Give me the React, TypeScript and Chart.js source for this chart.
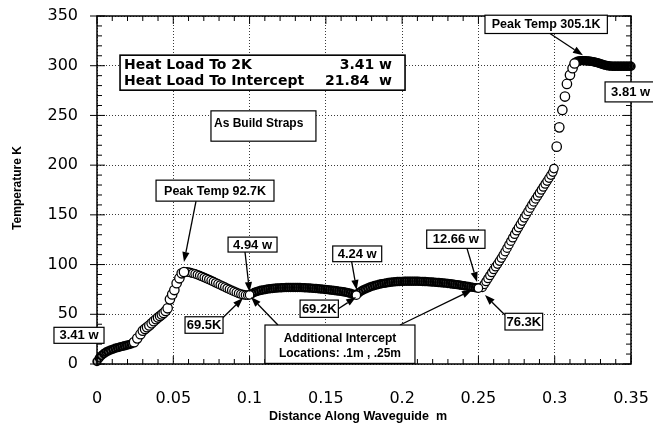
import { useEffect, useRef } from 'react';
import { Chart, registerables } from 'chart.js';

Chart.register(...registerables);

// ---- axis ticks ----
const xTickValues = [0, 0.05, 0.1, 0.15, 0.2, 0.25, 0.3, 0.35];
const xTickLabels = ['0', '0.05', '0.1', '0.15', '0.2', '0.25', '0.3', '0.35'];
const yTickValues = [0, 50, 100, 150, 200, 250, 300, 350];
const yTickLabels = ['0', '50', '100', '150', '200', '250', '300', '350'];

// ---- data (distance m, temperature K) ----
const distA = [0, 0.0015, 0.003, 0.0045, 0.006, 0.0075, 0.009, 0.0105, 0.012, 0.0135, 0.015, 0.0165, 0.018, 0.0195, 0.021, 0.0225];
const tempA = [2.5, 6, 8.5, 10.5, 12, 13.2, 14.2, 15, 15.8, 16.5, 17.1, 17.7, 18.3, 18.9, 19.5, 20.2];

const distB = [0.0243, 0.0264, 0.0285, 0.03, 0.0315, 0.0328, 0.0343, 0.0358, 0.0372, 0.0387, 0.04, 0.0413, 0.0425, 0.0437, 0.045, 0.0463, 0.0478, 0.0493, 0.0507, 0.0522, 0.054, 0.0555, 0.057];
const tempB = [22, 25.8, 30, 33.5, 35.3, 37, 38.8, 40.9, 43, 45, 46.7, 48.3, 49.8, 51.3, 53.3, 56, 65, 70, 74.4, 81.2, 86.2, 91.2, 92.5];

const distC = [0.0583, 0.0598, 0.0613, 0.0628, 0.0643, 0.0658, 0.0673, 0.0688, 0.0703, 0.0718, 0.0733, 0.0748, 0.0763, 0.0778, 0.0793, 0.0808, 0.0823, 0.0838, 0.0853, 0.0868, 0.0883, 0.0898, 0.0913, 0.0928, 0.0943, 0.0958, 0.0973, 0.0988];
const tempC = [92.7, 92.4, 91.9, 91.3, 90.6, 89.8, 88.9, 88.0, 87.0, 86.0, 85.0, 83.9, 82.8, 81.7, 80.6, 79.5, 78.4, 77.3, 76.2, 75.1, 74.0, 73.0, 72.0, 71.1, 70.3, 69.7, 69.3, 69.2];

const distD = [0.1015, 0.103, 0.1045, 0.106, 0.1075, 0.109, 0.1105, 0.112, 0.1135, 0.115,
  0.1165, 0.118, 0.1195, 0.121, 0.1225, 0.124, 0.1255, 0.127, 0.1285, 0.13,
  0.1315, 0.133, 0.1345, 0.136, 0.1375, 0.139, 0.1405, 0.142, 0.1435, 0.145,
  0.1465, 0.148, 0.1495, 0.151, 0.1525, 0.154, 0.1555, 0.157, 0.1585, 0.16,
  0.1615, 0.163, 0.1645, 0.166, 0.1675, 0.169];
const tempD = [70.8, 71.9, 72.8, 73.5, 74.1, 74.6, 75.0, 75.4, 75.7, 76.0,
  76.2, 76.4, 76.6, 76.7, 76.8, 76.9, 77.0, 77.0, 77.0, 77.0,
  76.9, 76.9, 76.8, 76.7, 76.6, 76.5, 76.3, 76.1, 75.9, 75.7,
  75.5, 75.3, 75.0, 74.8, 74.5, 74.2, 73.9, 73.6, 73.3, 73.0,
  72.6, 72.2, 71.7, 71.1, 70.4, 69.7];

const distE = [0.1715, 0.173, 0.1745, 0.176, 0.1775, 0.179, 0.1805, 0.182, 0.1835, 0.185,
  0.1865, 0.188, 0.1895, 0.191, 0.1925, 0.194, 0.1955, 0.197, 0.1985, 0.2,
  0.2015, 0.203, 0.2045, 0.206, 0.2075, 0.209, 0.2105, 0.212, 0.2135, 0.215,
  0.2165, 0.218, 0.2195, 0.221, 0.2225, 0.224, 0.2255, 0.227, 0.2285, 0.23,
  0.2315, 0.233, 0.2345, 0.236, 0.2375, 0.239, 0.2405, 0.242, 0.2435, 0.245,
  0.2465, 0.248, 0.2495];
const tempE = [71.6, 73.2, 74.5, 75.6, 76.6, 77.5, 78.3, 79.0, 79.6, 80.2,
  80.7, 81.1, 81.5, 81.9, 82.2, 82.5, 82.7, 82.9, 83.0, 83.1,
  83.2, 83.3, 83.3, 83.3, 83.3, 83.3, 83.2, 83.1, 83.0, 82.9,
  82.8, 82.6, 82.5, 82.3, 82.1, 81.9, 81.7, 81.5, 81.3, 81.0,
  80.7, 80.4, 80.1, 79.8, 79.5, 79.1, 78.7, 78.3, 77.9, 77.5,
  77.1, 76.7, 76.4];

const distF = [0.2525, 0.25375, 0.255, 0.25625, 0.2575, 0.25875, 0.26, 0.26125, 0.2625, 0.26375,
  0.265, 0.26625, 0.2675, 0.26875, 0.27, 0.27125, 0.2725, 0.27375, 0.275, 0.27625,
  0.2775, 0.27875, 0.28, 0.28125, 0.2825, 0.28375, 0.285, 0.28625, 0.2875, 0.28875,
  0.29, 0.29125, 0.2925, 0.29375, 0.295, 0.29625, 0.2975, 0.29875, 0.2995];
const tempF = [77, 80, 83, 86, 89, 92, 95, 97.8, 100.5, 103.5,
  106.5, 109.7, 113, 116.5, 120, 123.5, 127, 130.5, 134, 137.2,
  140.5, 143.7, 147, 150.2, 153.5, 156.7, 160, 163, 166, 169,
  172, 175, 178, 181, 184, 187, 190, 193, 196.5];

const distG = [0.3013, 0.303, 0.305, 0.3067, 0.308, 0.31, 0.3117, 0.313];
const tempG = [218.6, 238, 255.5, 269, 281.7, 290.7, 297.5, 302.3];

const distH = [0.314, 0.315, 0.316, 0.317, 0.318, 0.319, 0.32, 0.321, 0.322, 0.323,
  0.324, 0.325, 0.326, 0.327, 0.328, 0.329, 0.33, 0.331, 0.332, 0.333,
  0.334, 0.335, 0.336, 0.337, 0.338, 0.339, 0.34, 0.341, 0.342, 0.343,
  0.344, 0.345, 0.346, 0.347, 0.348, 0.349, 0.35];
const tempH = [303.8, 304.5, 304.9, 305.1, 305.1, 305.1, 305.0, 304.9, 304.8, 304.6,
  304.4, 304.1, 303.8, 303.4, 303.0, 302.5, 302.0, 301.5, 301.0, 300.6,
  300.2, 299.9, 299.7, 299.6, 299.5, 299.5, 299.5, 299.5, 299.5, 299.5,
  299.5, 299.5, 299.5, 299.5, 299.5, 299.5, 299.5];

// intercept points
const distI = [0.1, 0.17, 0.25];
const tempI = [69.5, 69.2, 76.3];

// ---- annotations (box corners in data coords: x0, yTop, x1, yBottom) ----
const BIG = 'bold 14px "DejaVu Sans"';
const LBL = 'bold 12px "Liberation Sans"';
const NUM = 'bold 13px "Liberation Sans"';
const PEAK = 'bold 12.5px "Liberation Sans"';

type Line = { t: string; align?: 'left' | 'right' | 'center'; dx?: number; dy?: number };
type Ann = { box: number[]; font: string; lines: Line[]; arrows?: number[][]; lw?: number };

const annotations: Ann[] = [
  {
    box: [0.0151, 310.6, 0.2019, 275.4], font: BIG, lw: 1.6,
    lines: [
      { t: 'Heat Load To 2K', align: 'left', dx: 4, dy: 14 },
      { t: 'Heat Load To Intercept', align: 'left', dx: 4, dy: 30 },
      { t: '3.41 w', align: 'right', dx: -13, dy: 14 },
      { t: '21.84  w', align: 'right', dx: -13, dy: 30 },
    ],
  },
  { box: [0.0747, 254.6, 0.1435, 224.1], font: LBL, lines: [{ t: 'As Build Straps', align: 'left', dx: 3, dy: 16 }] },
  { box: [0.0387, 184.9, 0.116, 163.8], font: PEAK, lines: [{ t: 'Peak Temp 92.7K' }], arrows: [[0.0649, 163.8, 0.057, 102.5]] },
  { box: [0.0859, 127.6, 0.118, 112.6], font: NUM, lines: [{ t: '4.94 w' }], arrows: [[0.097, 112.6, 0.1, 72.4]] },
  { box: [0.0577, 47.5, 0.0826, 30.9], font: NUM, lines: [{ t: '69.5K' }], arrows: [[0.0823, 46.2, 0.0957, 66.3]] },
  {
    box: [0.1101, 39.2, 0.2084, 0.6], font: LBL,
    lines: [
      { t: 'Additional Intercept', align: 'center', dy: 16.5 },
      { t: 'Locations: .1m , .25m', align: 'center', dy: 32 },
    ],
    arrows: [[0.1186, 39.2, 0.1009, 67.3], [0.1986, 39.2, 0.2458, 74.4]],
  },
  { box: [0.1331, 64.3, 0.1582, 46.9], font: NUM, lines: [{ t: '69.2K' }], arrows: [[0.1582, 55.5, 0.1698, 67.3]] },
  { box: [0.1545, 118.7, 0.1866, 102.9], font: NUM, lines: [{ t: '4.24 w' }], arrows: [[0.1669, 102.9, 0.1702, 74.5]] },
  { box: [0.2161, 134.7, 0.2543, 116.3], font: NUM, lines: [{ t: '12.66 w' }], arrows: [[0.2425, 116.3, 0.2491, 82.4]] },
  { box: [0.2674, 51, 0.2921, 34.2], font: NUM, lines: [{ t: '76.3K' }], arrows: [[0.2674, 49.2, 0.2543, 69.3]] },
  { box: [0.2543, 350.8, 0.3345, 332.4], font: PEAK, lines: [{ t: 'Peak Temp 305.1K' }], arrows: [[0.2969, 332.4, 0.3185, 310.6]] },
  { box: [0.333, 283.7, 0.369, 263.6], font: NUM, lines: [{ t: '3.81 w', align: 'left', dx: 6, dy: 14.5 }] },
  { box: [-0.0282, 36.9, 0.0046, 20.8], font: NUM, lines: [{ t: '3.41 w' }] },
];

const pts = (xs: number[], ys: number[]) => xs.map((x, i) => ({ x, y: ys[i] }));

function drawArrow(ctx: CanvasRenderingContext2D, x1: number, y1: number, x2: number, y2: number) {
  const ang = Math.atan2(y2 - y1, x2 - x1);
  const L = 10, W = 3.6;
  const bx = x2 - L * Math.cos(ang), by = y2 - L * Math.sin(ang);
  ctx.beginPath();
  ctx.moveTo(x1, y1);
  ctx.lineTo(bx, by);
  ctx.lineWidth = 1.3;
  ctx.stroke();
  ctx.beginPath();
  ctx.moveTo(x2, y2);
  ctx.lineTo(bx + W * Math.sin(ang), by - W * Math.cos(ang));
  ctx.lineTo(bx - W * Math.sin(ang), by + W * Math.cos(ang));
  ctx.closePath();
  ctx.fill();
}

const overlay = {
  id: 'overlay',
  afterDraw(chart: any) {
    const { ctx, chartArea: a, scales } = chart;
    const X = (v: number) => scales.x.getPixelForValue(v);
    const Y = (v: number) => scales.y.getPixelForValue(v);
    ctx.save();
    ctx.strokeStyle = '#000';
    ctx.fillStyle = '#000';
    // frame
    ctx.lineWidth = 1.5;
    ctx.strokeRect(a.left, a.top, a.right - a.left, a.bottom - a.top);
    // ticks
    ctx.lineWidth = 1;
    ctx.beginPath();
    for (let i = 0; i <= 35; i++) {
      const px = X(i * 0.01);
      const len = i % 5 === 0 ? 8 : 5;
      ctx.moveTo(px, a.bottom); ctx.lineTo(px, a.bottom - len);
      ctx.moveTo(px, a.top); ctx.lineTo(px, a.top + len);
    }
    for (let j = 0; j <= 35; j++) {
      const py = Y(j * 10);
      const len = j % 5 === 0 ? 8 : 5;
      ctx.moveTo(a.left, py); ctx.lineTo(a.left + len, py);
      ctx.moveTo(a.right, py); ctx.lineTo(a.right - len, py);
      if (j % 5 === 0) { ctx.moveTo(a.left - 7, py); ctx.lineTo(a.left, py); }
    }
    ctx.stroke();

    // axis titles
    ctx.font = 'bold 12px "Liberation Sans"';
    ctx.textAlign = 'center';
    ctx.textBaseline = 'middle';
    ctx.save();
    ctx.translate(18, 188);
    ctx.rotate(-Math.PI / 2);
    ctx.fillText('Temperature K', 0, 0);
    ctx.restore();
    ctx.font = 'bold 12.5px "Liberation Sans"';
    ctx.fillText('Distance Along Waveguide  m', 358, 417);

    // annotations
    for (const an of annotations) {
      (an.arrows || []).forEach((ar) => drawArrow(ctx, X(ar[0]), Y(ar[1]), X(ar[2]), Y(ar[3])));
    }
    for (const an of annotations) {
      const x0 = X(an.box[0]), y0 = Y(an.box[1]), x1 = X(an.box[2]), y1 = Y(an.box[3]);
      ctx.fillStyle = '#fff';
      ctx.fillRect(x0, y0, x1 - x0, y1 - y0);
      ctx.lineWidth = an.lw || 1.2;
      ctx.strokeStyle = '#000';
      ctx.strokeRect(x0, y0, x1 - x0, y1 - y0);
      ctx.fillStyle = '#000';
      ctx.font = an.font;
      for (const ln of an.lines) {
        if (ln.dy === undefined) {
          ctx.textAlign = 'center';
          ctx.textBaseline = 'middle';
          ctx.fillText(ln.t, (x0 + x1) / 2, (y0 + y1) / 2 + 0.5);
        } else {
          ctx.textBaseline = 'alphabetic';
          const al = ln.align || 'center';
          ctx.textAlign = al;
          const tx = al === 'left' ? x0 + (ln.dx || 0) : al === 'right' ? x1 + (ln.dx || 0) : (x0 + x1) / 2;
          ctx.fillText(ln.t, tx, y0 + ln.dy);
        }
      }
    }
    ctx.restore();
  },
};

const solid = {
  pointRadius: 3.9,
  pointBorderWidth: 1.6,
  pointBorderColor: '#000',
  pointBackgroundColor: 'rgba(0,0,0,0.3)',
  clip: false as const,
};
const open = {
  pointRadius: 4.2,
  pointBorderWidth: 1.25,
  pointBorderColor: '#000',
  pointBackgroundColor: '#fff',
  clip: false as const,
};
const sparse = {
  pointRadius: 4.7,
  pointBorderWidth: 1.3,
  pointBorderColor: '#000',
  pointBackgroundColor: '#fff',
  clip: false as const,
};

const zeroPad = (s: any) => {
  s.paddingTop = 0;
  s.paddingBottom = 0;
  s.paddingLeft = 0;
  s.paddingRight = 0;
};

export default function App() {
  const ref = useRef<HTMLCanvasElement>(null);
  useEffect(() => {
    if (!ref.current) return;
    const gridBase = { color: '#3a3a3a', lineWidth: 1, drawTicks: false };
    const chart = new Chart(ref.current, {
      type: 'scatter',
      data: {
        datasets: [
          { data: pts(distI, tempI), ...open },
          { data: pts(distG, tempG), ...sparse },
          { data: pts(distB, tempB), ...sparse },
          { data: pts(distC, tempC), ...open },
          { data: pts(distF, tempF), ...open },
          { data: pts(distA, tempA), ...solid },
          { data: pts(distD, tempD), ...solid },
          { data: pts(distE, tempE), ...solid },
          { data: pts(distH, tempH), ...solid },
        ],
      },
      options: {
        animation: false,
        responsive: false,
        maintainAspectRatio: false,
        layout: { padding: { left: 0, right: 22, top: 16, bottom: 0 } },
        plugins: { legend: { display: false }, tooltip: { enabled: false } },
        scales: {
          x: {
            type: 'linear',
            min: 0,
            max: 0.35,
            afterFit: (s: any) => { s.height = 61; zeroPad(s); },
            afterBuildTicks: (s: any) => { s.ticks = xTickValues.map((v) => ({ value: v })); },
            ticks: {
              callback: (_v: any, i: number) => xTickLabels[i],
              font: { family: 'DejaVu Sans', size: 16 },
              color: '#000',
              padding: 25,
              maxRotation: 0,
            },
            grid: gridBase,
            border: { display: false, dash: [1, 2] },
          },
          y: {
            type: 'linear',
            min: 0,
            max: 350,
            afterFit: (s: any) => { s.width = 97; zeroPad(s); },
            afterBuildTicks: (s: any) => { s.ticks = yTickValues.map((v) => ({ value: v })); },
            ticks: {
              callback: (_v: any, i: number) => yTickLabels[i],
              font: { family: 'DejaVu Sans', size: 16 },
              color: '#000',
              padding: 19,
            },
            grid: gridBase,
            border: { display: false, dash: [1, 2] },
          },
        },
      },
      plugins: [overlay],
    });
    return () => chart.destroy();
  }, []);
  return (
    <div style={{ position: 'fixed', left: 0, top: 0, width: 653, height: 425, background: '#fff' }}>
      <canvas ref={ref} width={653} height={425} />
    </div>
  );
}
